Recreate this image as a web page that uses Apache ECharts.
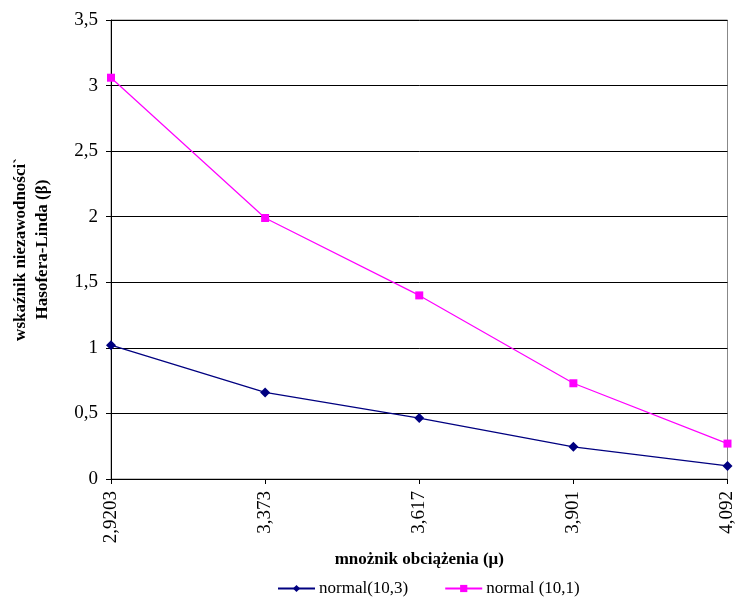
<!DOCTYPE html>
<html><head><meta charset="utf-8">
<script src="https://cdn.jsdelivr.net/npm/echarts@6/dist/echarts.min.js"></script>
<style>html,body{margin:0;padding:0;background:#fff}#c{width:737px;height:599px}</style>
</head><body><div id="c"></div>
<script>
const categories = ['2,9203', '3,373', '3,617', '3,901', '4,092'];
const seriesNames = ['normal(10,3)', 'normal (10,1)'];
const valuesNavy = [1.02, 0.66, 0.465, 0.245, 0.10];
const valuesMagenta = [3.06, 1.99, 1.40, 0.73, 0.27];
const yTicks = [0, 0.5, 1, 1.5, 2, 2.5, 3, 3.5];

const font = '"Liberation Serif", "Times New Roman", serif';
const chart = echarts.init(document.getElementById('c'), null, {renderer: 'canvas'});
chart.setOption({
  animation: false,
  backgroundColor: '#fff',
  grid: {left: 111, right: 6, top: 20, bottom: 120, show: true, borderColor: '#888', borderWidth: 1},
  legend: {
    top: 575, left: 272, itemWidth: 37, itemHeight: 9, itemGap: 36,
    textStyle: {fontFamily: font, fontSize: 17, color: '#000', padding: [0, 0, 0, -1]},
    data: seriesNames
  },
  xAxis: {
    type: 'category', data: categories, boundaryGap: false,
    name: 'mnożnik obciążenia (μ)', nameLocation: 'middle', nameGap: 58,
    nameTextStyle: {fontFamily: font, fontSize: 17, fontWeight: 'bold', color: '#000'},
    axisLine: {lineStyle: {color: '#000', width: 1}},
    axisTick: {show: true, alignWithLabel: true, length: 5, lineStyle: {color: '#000'}},
    axisLabel: {rotate: 90, fontFamily: font, fontSize: 19, color: '#000', margin: 12},
    splitLine: {show: false}
  },
  yAxis: {
    type: 'value', min: 0, max: 3.5, interval: 0.5,
    name: 'wskaźnik niezawodności`\nHasofera-Linda (β)', nameLocation: 'middle', nameGap: 57,
    nameTextStyle: {fontFamily: font, fontSize: 17, fontWeight: 'bold', color: '#000', lineHeight: 22},
    axisLine: {show: true, lineStyle: {color: '#000', width: 1}},
    axisTick: {show: true, length: 5, lineStyle: {color: '#000'}},
    axisLabel: {fontFamily: font, fontSize: 19, color: '#000', margin: 13,
      formatter: v => String(v).replace('.', ',')},
    splitLine: {show: true, lineStyle: {color: '#000', width: 1}}
  },
  series: [
    {name: seriesNames[0], type: 'line', data: valuesNavy, symbol: 'diamond', symbolSize: 10,
     itemStyle: {color: '#000080'}, lineStyle: {color: '#000080', width: 1.3}},
    {name: seriesNames[1], type: 'line', data: valuesMagenta, symbol: 'rect', symbolSize: 8,
     itemStyle: {color: '#ff00ff'}, lineStyle: {color: '#ff00ff', width: 1.2}}
  ]
});
</script></body></html>
